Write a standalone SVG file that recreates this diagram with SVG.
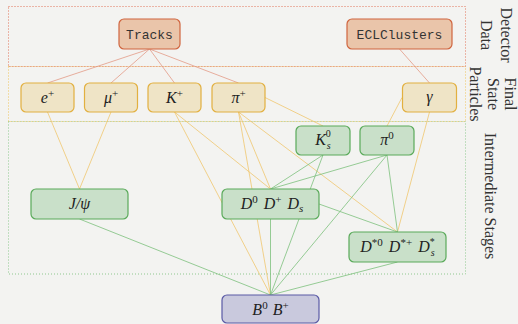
<svg xmlns="http://www.w3.org/2000/svg" width="518" height="324" viewBox="0 0 518 324">
  <style>
    .bg { fill: #f3f3f1; }
    .zone { fill: none; stroke-width: 1; stroke-dasharray: 1 2; }
    .z-det { stroke: #e0755a; }
    .z-fs { stroke: #efc45e; }
    .z-int { stroke: #8fc88f; }
    .det rect { fill: #eac5aa; stroke: #d0653f; stroke-width: 1.2; }
    .fs rect { fill: #efe4c6; stroke: #e2b040; stroke-width: 1.2; }
    .int rect { fill: #c9e0c9; stroke: #5aaa5a; stroke-width: 1.2; }
    .fin rect { fill: #c9c9dd; stroke: #5a5aa6; stroke-width: 1.2; }
    .tt { font-family: "Liberation Mono", "DejaVu Sans Mono", monospace; font-size: 13px; fill: #333; text-anchor: middle; }
    .m { font-family: "Liberation Serif", "DejaVu Serif", serif; font-size: 16px; fill: #222; text-anchor: middle; }
    .i { font-style: italic; }
    .s { font-size: 11px; }
    .ss { font-size: 10px; }
    .lab { font-family: "Liberation Serif", "DejaVu Serif", serif; font-size: 16px; fill: #333; text-anchor: middle; }
    .e-red { stroke: #e39a86; stroke-width: 0.8; fill: none; }
    .e-or { stroke: #f0c76e; stroke-width: 0.8; fill: none; }
    .e-gr { stroke: #7cc07c; stroke-width: 0.8; fill: none; }
  </style>

  <rect class="bg" x="0" y="0" width="518" height="324"/>

  <!-- stage zones -->
  <g id="zones">
    <rect class="zone z-int" x="8.5" y="121.5" width="457" height="152.5"/>
    <rect class="zone z-fs" x="8.5" y="66.5" width="457" height="55"/>
    <rect class="zone z-det" x="8.5" y="6.5" width="457" height="60"/>
  </g>

  <!-- zone captions -->
  <g id="captions">
    <text class="lab" transform="translate(501,35) rotate(90)">Detector</text>
    <text class="lab" transform="translate(481,35) rotate(90)">Data</text>
    <text class="lab" transform="translate(505,94) rotate(90)">Final</text>
    <text class="lab" transform="translate(487.5,94) rotate(90)">State</text>
    <text class="lab" transform="translate(470,94) rotate(90)">Particles</text>
    <text class="lab" transform="translate(485,196) rotate(90)">Intermediate Stages</text>
  </g>

  <!-- connectors -->
  <g id="edges">
    <line class="e-red" x1="149.5" y1="49" x2="47.5" y2="83"/>
    <line class="e-red" x1="149.5" y1="49" x2="111" y2="83"/>
    <line class="e-red" x1="149.5" y1="49" x2="174.5" y2="83"/>
    <line class="e-red" x1="149.5" y1="49" x2="238.5" y2="83"/>
    <line class="e-red" x1="399.5" y1="49" x2="429.5" y2="83"/>

    <line class="e-or" x1="47.5" y1="112" x2="79.5" y2="189"/>
    <line class="e-or" x1="111" y1="112" x2="79.5" y2="189"/>
    <line class="e-or" x1="174.5" y1="112" x2="270.5" y2="189"/>
    <line class="e-or" x1="174.5" y1="112" x2="270.5" y2="295"/>
    <line class="e-or" x1="238.5" y1="112" x2="270.5" y2="189"/>
    <line class="e-or" x1="238.5" y1="112" x2="270.5" y2="295"/>
    <line class="e-or" x1="238.5" y1="112" x2="397.5" y2="232"/>
    <line class="e-or" x1="265" y1="97.5" x2="323" y2="126"/>
    <line class="e-or" x1="429.5" y1="112" x2="397.5" y2="232"/>
    <line class="e-or" x1="402" y1="97.5" x2="387" y2="126"/>

    <line class="e-gr" x1="323" y1="155" x2="270.5" y2="189"/>
    <line class="e-gr" x1="323" y1="155" x2="270.5" y2="295"/>
    <line class="e-gr" x1="387" y1="155" x2="270.5" y2="189"/>
    <line class="e-gr" x1="387" y1="155" x2="397.5" y2="232"/>
    <line class="e-gr" x1="387" y1="155" x2="270.5" y2="295"/>
    <line class="e-gr" x1="79.5" y1="219" x2="270.5" y2="295"/>
    <line class="e-gr" x1="270.5" y1="219" x2="270.5" y2="295"/>
    <line class="e-gr" x1="319" y1="204" x2="397.5" y2="232"/>
    <line class="e-gr" x1="397.5" y1="262" x2="270.5" y2="295"/>
  </g>

  <!-- detector data -->
  <g id="tracks" class="det">
    <rect x="119" y="19" width="61" height="30" rx="5"/>
    <text class="tt" x="149.5" y="38.5">Tracks</text>
  </g>
  <g id="eclclusters" class="det">
    <rect x="347" y="19" width="105" height="30" rx="5"/>
    <text class="tt" x="399.5" y="38.5">ECLClusters</text>
  </g>

  <!-- final state particles -->
  <g id="electron" class="fs">
    <rect x="21" y="83" width="53" height="29" rx="5"/>
    <text class="m" x="47.5" y="103"><tspan class="i">e</tspan><tspan class="s" dy="-6">+</tspan></text>
  </g>
  <g id="muon" class="fs">
    <rect x="84.5" y="83" width="53" height="29" rx="5"/>
    <text class="m" x="111" y="103"><tspan class="i">μ</tspan><tspan class="s" dy="-6">+</tspan></text>
  </g>
  <g id="kaon" class="fs">
    <rect x="148" y="83" width="53" height="29" rx="5"/>
    <text class="m" x="174.5" y="103"><tspan class="i">K</tspan><tspan class="s" dy="-6">+</tspan></text>
  </g>
  <g id="pion" class="fs">
    <rect x="212" y="83" width="53" height="29" rx="5"/>
    <text class="m" x="238.5" y="103"><tspan class="i">π</tspan><tspan class="s" dy="-6">+</tspan></text>
  </g>
  <g id="photon" class="fs">
    <rect x="402.5" y="83" width="54" height="29" rx="5"/>
    <text class="m i" x="429.5" y="102">γ</text>
  </g>

  <!-- intermediate stages -->
  <g id="kshort" class="int">
    <rect x="296" y="126" width="54" height="29" rx="5"/>
    <text class="m" x="323" y="145"><tspan class="i">K</tspan><tspan class="ss" dy="-8">0</tspan><tspan class="ss i" dx="-4" dy="12">s</tspan></text>
  </g>
  <g id="pizero" class="int">
    <rect x="360" y="126" width="54" height="29" rx="5"/>
    <text class="m" x="387" y="145"><tspan class="i">π</tspan><tspan class="s" dy="-6">0</tspan></text>
  </g>
  <g id="jpsi" class="int">
    <rect x="31" y="189" width="97" height="30" rx="5"/>
    <text class="m i" x="79.5" y="209">J/ψ</text>
  </g>
  <g id="dmesons" class="int">
    <rect x="222" y="189" width="97" height="30" rx="5"/>
    <text class="m" x="272" y="209"><tspan class="i">D</tspan><tspan class="s" dy="-6">0</tspan><tspan class="i" dx="6" dy="6">D</tspan><tspan class="s" dy="-6">+</tspan><tspan class="i" dx="6" dy="6">D</tspan><tspan class="s i" dy="3">s</tspan></text>
  </g>
  <g id="dstar" class="int">
    <rect x="349" y="232" width="97" height="30" rx="5"/>
    <text class="m" x="397.5" y="252"><tspan class="i">D</tspan><tspan class="s" dy="-6">*0</tspan><tspan class="i" dx="6" dy="6">D</tspan><tspan class="s" dy="-6">*+</tspan><tspan class="i" dx="6" dy="6">D</tspan><tspan class="ss" dy="-7">*</tspan><tspan class="ss i" dx="-4" dy="11">s</tspan></text>
  </g>

  <!-- final B candidates -->
  <g id="bmesons" class="fin">
    <rect x="222" y="295" width="97" height="28" rx="5"/>
    <text class="m" x="270.5" y="315"><tspan class="i">B</tspan><tspan class="s" dy="-6">0</tspan><tspan class="i" dx="5" dy="6">B</tspan><tspan class="s" dy="-6">+</tspan></text>
  </g>
</svg>
